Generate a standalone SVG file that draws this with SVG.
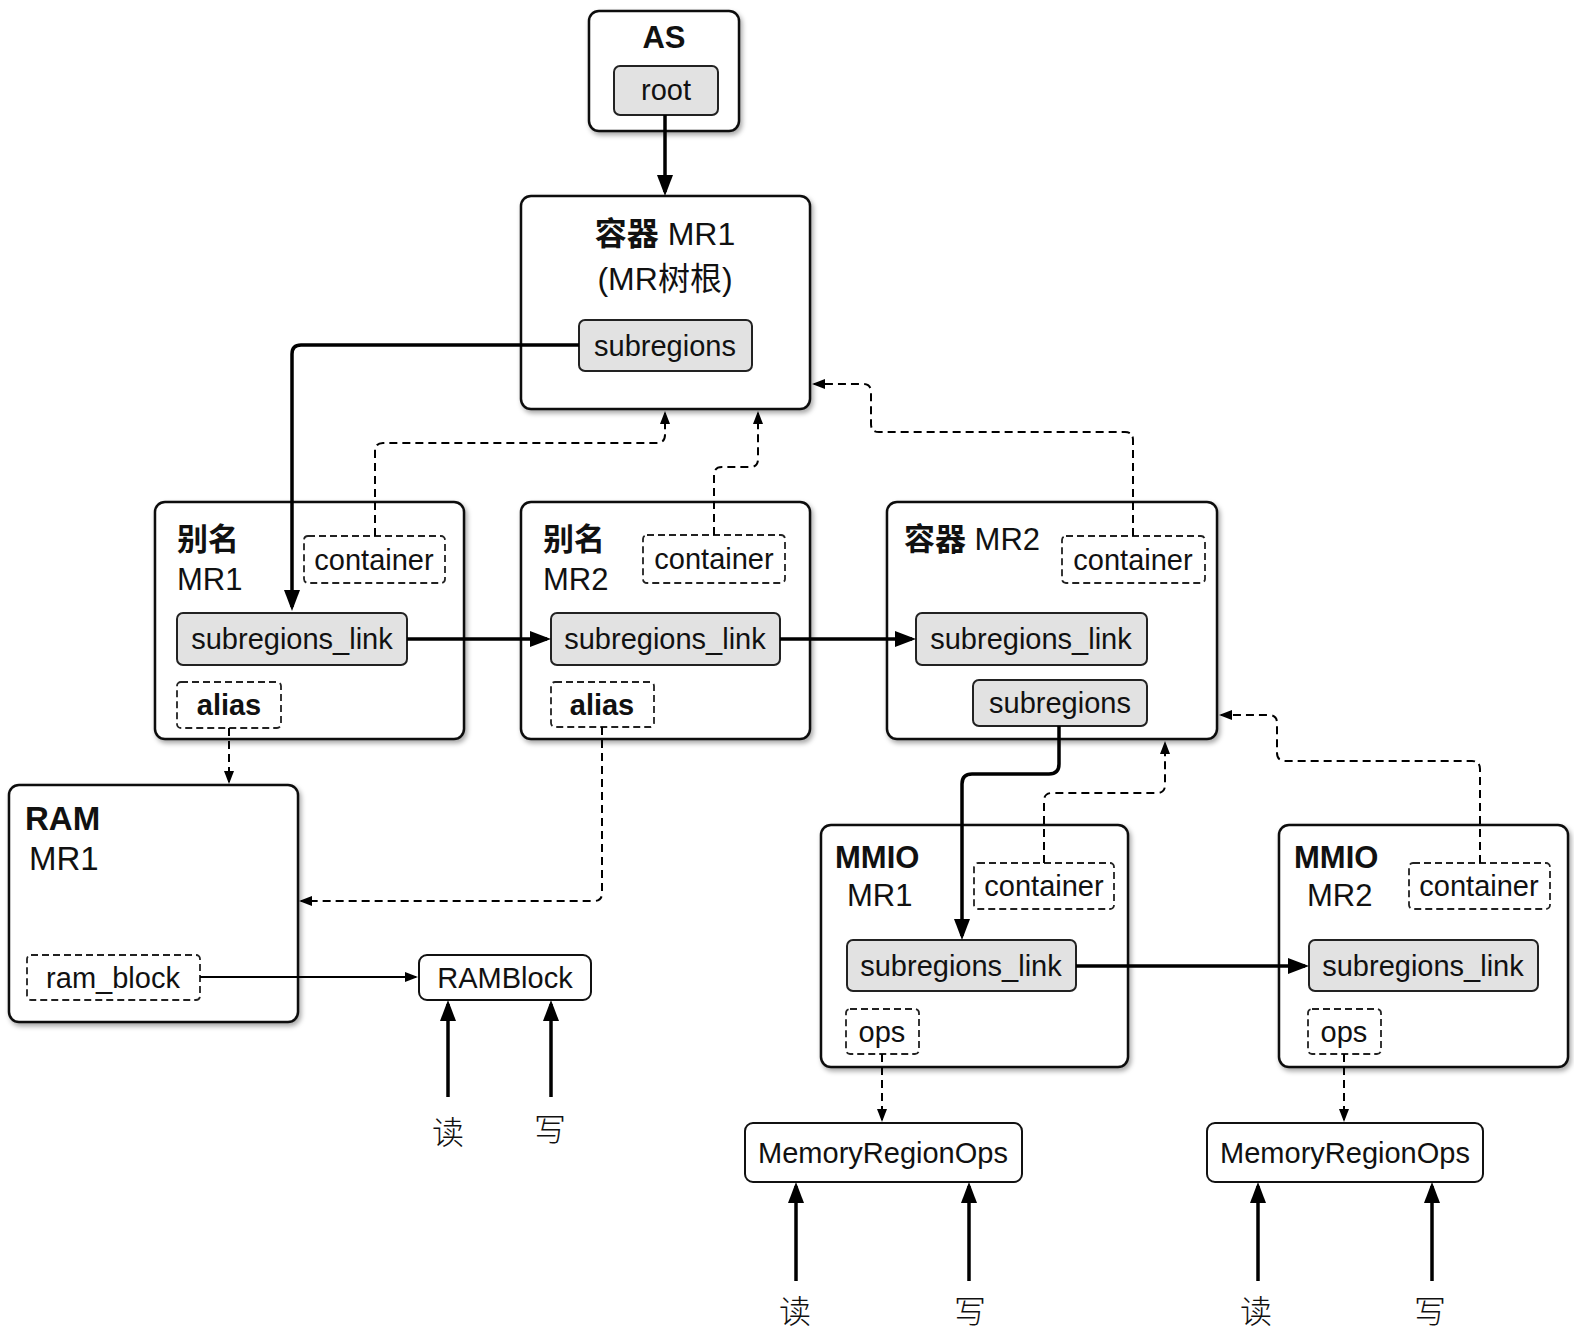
<svg xmlns="http://www.w3.org/2000/svg" width="1574" height="1336" viewBox="0 0 1574 1336">
<defs>
<filter id="sh" x="-10%" y="-10%" width="125%" height="125%">
<feDropShadow dx="2" dy="3" stdDeviation="2.5" flood-color="#000" flood-opacity="0.35"/>
</filter>
<marker id="big" markerUnits="userSpaceOnUse" markerWidth="22" markerHeight="18" refX="17" refY="8" orient="auto">
<path d="M0,0 L21,8 L0,16 z" fill="#000"/>
</marker>
<marker id="sm" markerUnits="userSpaceOnUse" markerWidth="14" markerHeight="12" refX="11" refY="5" orient="auto">
<path d="M0,0 L13,5 L0,10 z" fill="#000"/>
</marker>
</defs>
<style>
text{font-family:"Liberation Sans","Noto Sans CJK SC",sans-serif;fill:#111;}
.box{fill:#fff;stroke:#111;stroke-width:2.5;filter:url(#sh);}
.gbox{fill:#e2e2e2;stroke:#222;stroke-width:2;}
.dbox{fill:#fff;stroke:#222;stroke-width:1.8;stroke-dasharray:7,4;}
.pbox{fill:#fff;stroke:#111;stroke-width:2;}
.t{font-size:31px;}
.b{font-weight:bold;}
.f{font-size:29px;text-anchor:middle;}
.c{text-anchor:middle;}
.rw{font-family:"Noto Sans CJK SC",sans-serif;font-size:32px;text-anchor:middle;font-weight:300;}
.thick{fill:none;stroke:#000;stroke-width:3.5;}
.dash{fill:none;stroke:#000;stroke-width:2;stroke-dasharray:8,5;}
.thin{fill:none;stroke:#000;stroke-width:1.8;}
</style>

<g id="as">
<rect class="box" x="589" y="11" width="150" height="120" rx="10"/>
<text class="t b c" x="664" y="48">AS</text>
<rect class="gbox" x="614" y="66" width="104" height="49" rx="6"/>
<text class="f" x="666" y="100">root</text>
</g>

<g id="container-mr1">
<rect class="box" x="521" y="196" width="289" height="213" rx="10"/>
<text class="c" x="665" y="245" font-size="32"><tspan class="b">容器</tspan> MR1</text>
<text class="c" x="665" y="290" font-size="32">(MR树根)</text>
<rect class="gbox" x="579" y="320" width="173" height="51" rx="6"/>
<text class="f" x="665" y="356">subregions</text>
</g>

<g id="alias-mr1">
<rect class="box" x="155" y="502" width="309" height="237" rx="10"/>
<text class="t b" x="177" y="550">别名</text>
<text class="t" x="177" y="590">MR1</text>
<rect class="dbox" x="304" y="536" width="141" height="47" rx="4"/>
<text class="f" x="374" y="570">container</text>
<rect class="gbox" x="177" y="613" width="230" height="52" rx="6"/>
<text class="f" x="292" y="649">subregions_link</text>
<rect class="dbox" x="177" y="682" width="104" height="46" rx="4"/>
<text class="f b" x="229" y="715">alias</text>
</g>

<g id="alias-mr2">
<rect class="box" x="521" y="502" width="289" height="237" rx="10"/>
<text class="t b" x="543" y="550">别名</text>
<text class="t" x="543" y="590">MR2</text>
<rect class="dbox" x="643" y="535" width="142" height="48" rx="4"/>
<text class="f" x="714" y="569">container</text>
<rect class="gbox" x="551" y="613" width="229" height="52" rx="6"/>
<text class="f" x="665" y="649">subregions_link</text>
<rect class="dbox" x="551" y="682" width="103" height="45" rx="4"/>
<text class="f b" x="602" y="715">alias</text>
</g>

<g id="container-mr2">
<rect class="box" x="887" y="502" width="330" height="237" rx="10"/>
<text class="t" x="904" y="550"><tspan class="b">容器</tspan> MR2</text>
<rect class="dbox" x="1062" y="536" width="143" height="47" rx="4"/>
<text class="f" x="1133" y="570">container</text>
<rect class="gbox" x="916" y="613" width="231" height="52" rx="6"/>
<text class="f" x="1031" y="649">subregions_link</text>
<rect class="gbox" x="973" y="680" width="174" height="46" rx="6"/>
<text class="f" x="1060" y="713">subregions</text>
</g>

<g id="ram-mr1">
<rect class="box" x="9" y="785" width="289" height="237" rx="10"/>
<text class="b" x="25" y="830" font-size="33">RAM</text>
<text x="29" y="870" font-size="33">MR1</text>
<rect class="dbox" x="27" y="955" width="173" height="45" rx="4"/>
<text class="f" x="113" y="988">ram_block</text>
</g>

<g id="ramblock">
<rect class="pbox" x="419" y="955" width="172" height="45" rx="8"/>
<text class="f" x="505" y="988">RAMBlock</text>
</g>

<g id="mmio-mr1">
<rect class="box" x="821" y="825" width="307" height="242" rx="10"/>
<text class="t b" x="835" y="868">MMIO</text>
<text class="t" x="847" y="906">MR1</text>
<rect class="dbox" x="974" y="863" width="140" height="46" rx="4"/>
<text class="f" x="1044" y="896">container</text>
<rect class="gbox" x="847" y="940" width="229" height="51" rx="6"/>
<text class="f" x="961" y="976">subregions_link</text>
<rect class="dbox" x="846" y="1009" width="73" height="45" rx="4"/>
<text class="f" x="882" y="1042">ops</text>
</g>

<g id="mmio-mr2">
<rect class="box" x="1279" y="825" width="289" height="242" rx="10"/>
<text class="t b" x="1294" y="868">MMIO</text>
<text class="t" x="1307" y="906">MR2</text>
<rect class="dbox" x="1409" y="863" width="141" height="46" rx="4"/>
<text class="f" x="1479" y="896">container</text>
<rect class="gbox" x="1309" y="940" width="229" height="51" rx="6"/>
<text class="f" x="1423" y="976">subregions_link</text>
<rect class="dbox" x="1308" y="1009" width="73" height="45" rx="4"/>
<text class="f" x="1344" y="1042">ops</text>
</g>

<g id="mro1">
<rect class="pbox" x="745" y="1123" width="277" height="59" rx="8"/>
<text class="f" x="883" y="1163">MemoryRegionOps</text>
</g>

<g id="mro2">
<rect class="pbox" x="1207" y="1123" width="276" height="59" rx="8"/>
<text class="f" x="1345" y="1163">MemoryRegionOps</text>
</g>

<g id="labels">
<text class="rw" x="448" y="1144">读</text>
<text class="rw" x="550" y="1141">写</text>
<text class="rw" x="795" y="1323">读</text>
<text class="rw" x="970" y="1323">写</text>
<text class="rw" x="1256" y="1323">读</text>
<text class="rw" x="1430" y="1323">写</text>
</g>

<g id="connectors">
<path class="thick" d="M665,115 L665,192" marker-end="url(#big)"/>
<path class="thick" d="M579,345 L301,345 Q292,345 292,354 L292,607" marker-end="url(#big)"/>
<path class="thick" d="M407,639 L547,639" marker-end="url(#big)"/>
<path class="thick" d="M780,639 L912,639" marker-end="url(#big)"/>
<path class="thick" d="M1059,726 L1059,764 Q1059,774 1049,774 L972,774 Q962,774 962,784 L962,936" marker-end="url(#big)"/>
<path class="thick" d="M1076,966 L1305,966" marker-end="url(#big)"/>
<path class="dash" d="M375,536 L375,451 Q375,443 383,443 L657,443 Q665,443 665,435 L665,413" marker-end="url(#sm)"/>
<path class="dash" d="M714,535 L714,475 Q714,467 722,467 L750,467 Q758,467 758,459 L758,413" marker-end="url(#sm)"/>
<path class="dash" d="M1133,536 L1133,440 Q1133,432 1125,432 L879,432 Q871,432 871,424 L871,392 Q871,384 863,384 L814,384" marker-end="url(#sm)"/>
<path class="dash" d="M1044,863 L1044,801 Q1044,793 1052,793 L1157,793 Q1165,793 1165,785 L1165,743" marker-end="url(#sm)"/>
<path class="dash" d="M1480,863 L1480,769 Q1480,761 1472,761 L1285,761 Q1277,761 1277,753 L1277,723 Q1277,715 1269,715 L1221,715" marker-end="url(#sm)"/>
<path class="dash" d="M229,728 L229,782" marker-end="url(#sm)"/>
<path class="dash" d="M602,727 L602,893 Q602,901 594,901 L301,901" marker-end="url(#sm)"/>
<path class="thin" d="M200,977 L416,977" marker-end="url(#sm)"/>
<path class="dash" d="M882,1054 L882,1120" marker-end="url(#sm)"/>
<path class="dash" d="M1344,1054 L1344,1120" marker-end="url(#sm)"/>
<path class="thick" d="M448,1097 L448,1004" marker-end="url(#big)"/>
<path class="thick" d="M551,1097 L551,1004" marker-end="url(#big)"/>
<path class="thick" d="M796,1281 L796,1186" marker-end="url(#big)"/>
<path class="thick" d="M969,1281 L969,1186" marker-end="url(#big)"/>
<path class="thick" d="M1258,1281 L1258,1186" marker-end="url(#big)"/>
<path class="thick" d="M1432,1281 L1432,1186" marker-end="url(#big)"/>
</g>
</svg>
